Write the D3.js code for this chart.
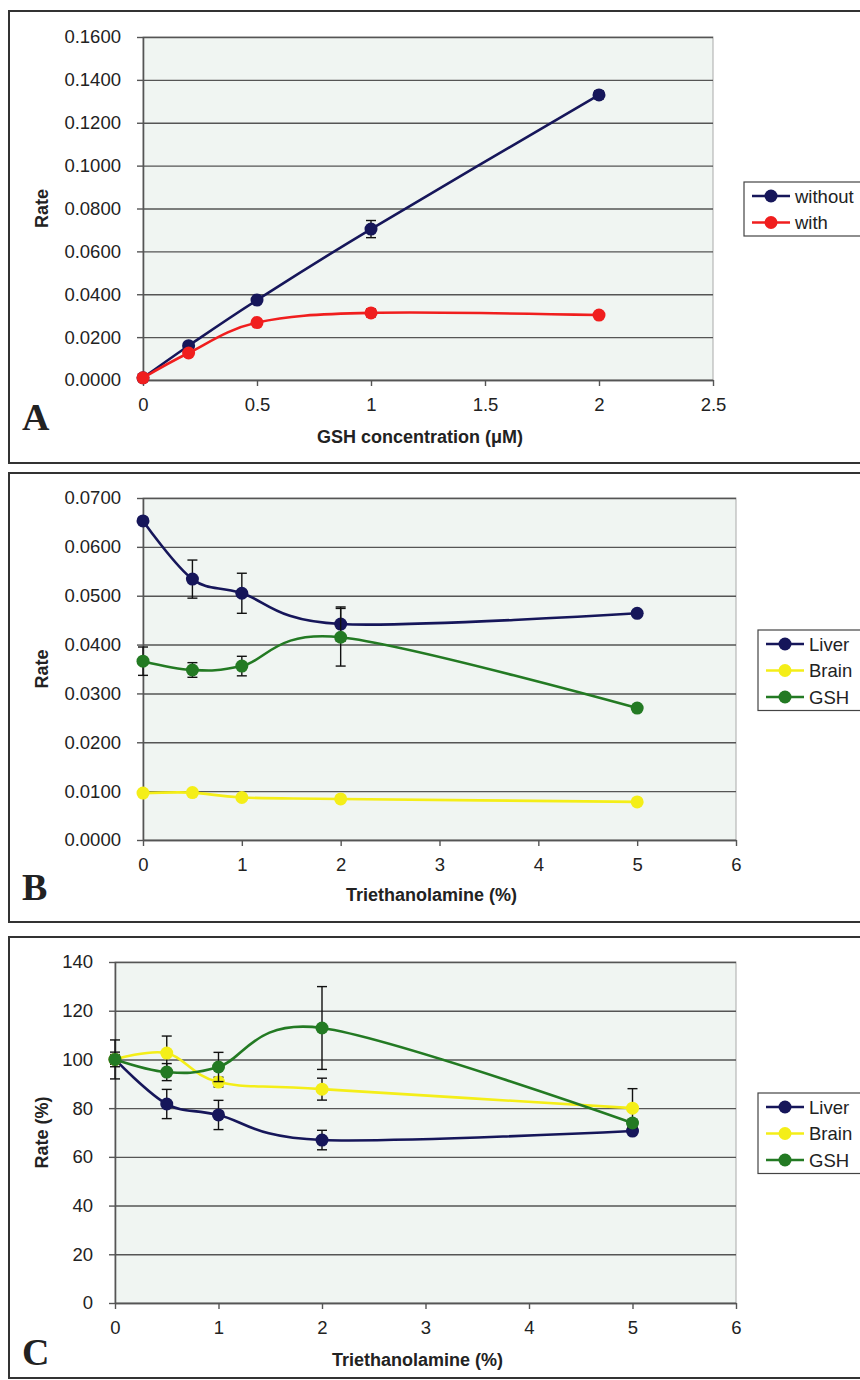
<!DOCTYPE html>
<html>
<head>
<meta charset="utf-8">
<script src="https://cdn.jsdelivr.net/npm/d3@7"></script>
<style>
  body { margin: 0; background: #fff; }
  svg { display: block; }
  text { font-family: "Liberation Sans", Arial, sans-serif; fill: #222; }
</style>
</head>
<body>
<svg id="fig" width="860" height="1380"></svg>
<script>
// ---- panel A data ----
var aX = [0, 0.2, 0.5, 1, 2];
var aWithout = [0.0010, 0.0160, 0.0373, 0.0704, 0.1330];
var aWithoutErr = [0.0003, 0.0010, 0.0008, 0.0040, 0.0018];
var aWith = [0.0010, 0.0126, 0.0268, 0.0313, 0.0303];
var aWithErr = [0.0003, 0.0008, 0.0010, 0.0018, 0.0008];
var aXTicks = [0, 0.5, 1, 1.5, 2, 2.5];
var aYTicks = [0, 0.02, 0.04, 0.06, 0.08, 0.10, 0.12, 0.14, 0.16];

// ---- panel B data ----
var bX = [0, 0.5, 1, 2, 5];
var bLiver = [0.0653, 0.0534, 0.0505, 0.0442, 0.0464];
var bLiverErr = [0.0005, 0.0039, 0.0041, 0.0035, 0.0005];
var bBrain = [0.0096, 0.0097, 0.0087, 0.0084, 0.0078];
var bBrainErr = [0.0003, 0.0003, 0.0003, 0.0003, 0.0003];
var bGSH = [0.0366, 0.0348, 0.0356, 0.0415, 0.0270];
var bGSHErr = [0.0029, 0.0015, 0.0020, 0.0059, 0.0005];
var bXTicks = [0, 1, 2, 3, 4, 5, 6];
var bYTicks = [0, 0.01, 0.02, 0.03, 0.04, 0.05, 0.06, 0.07];

// ---- panel C data ----
var cX = [0, 0.5, 1, 2, 5];
var cLiver = [100, 81.7, 77.2, 66.9, 70.6];
var cLiverErr = [3, 6, 6, 4, 1];
var cBrain = [100, 102.6, 90.7, 87.8, 80.0];
var cBrainErr = [2, 7, 2, 4.5, 8];
var cGSH = [100, 94.8, 96.9, 112.9, 73.9];
var cGSHErr = [8, 3.5, 6, 17, 1.5];
var cXTicks = [0, 1, 2, 3, 4, 5, 6];
var cYTicks = [0, 20, 40, 60, 80, 100, 120, 140];

var navy = "#16165a", red = "#f01e1e", yellow = "#f4ee18", green = "#237a23";

var svg = d3.select("#fig");

function panel(p) {
  var g = svg.append("g");

  // outer frame
  g.append("rect")
    .attr("x", 9).attr("y", p.top)
    .attr("width", 870).attr("height", p.bottom - p.top)
    .attr("fill", "none").attr("stroke", "#333").attr("stroke-width", 2);

  var x = d3.scaleLinear().domain(p.xDomain).range([p.left, p.right]);
  var y = d3.scaleLinear().domain(p.yDomain).range([p.plotBottom, p.plotTop]);

  g.append("rect")
    .attr("x", p.left).attr("y", p.plotTop)
    .attr("width", p.right - p.left).attr("height", p.plotBottom - p.plotTop)
    .attr("fill", "#f0f5f2").attr("stroke", "#aaaaaa").attr("stroke-width", 1);

  // grid lines
  g.append("g")
    .attr("transform", "translate(" + p.left + ",0)")
    .call(d3.axisLeft(y).tickValues(p.yTicks).tickSize(-(p.right - p.left)).tickFormat(""))
    .call(function(s){ s.select(".domain").remove(); })
    .selectAll("line").attr("stroke", "#555").attr("stroke-width", 1.4);

  // y axis
  var ya = g.append("g")
    .attr("transform", "translate(" + p.left + ",0)")
    .call(d3.axisLeft(y).tickValues(p.yTicks).tickSize(6).tickSizeOuter(0).tickPadding(16).tickFormat(p.yFormat));
  ya.select(".domain").attr("stroke", "#555").attr("stroke-width", 1.6);
  ya.selectAll("line").attr("stroke", "#555").attr("stroke-width", 1.4);
  ya.selectAll("text").style("font-size", "18.5px").attr("fill", "#222");

  // x axis
  var xa = g.append("g")
    .attr("transform", "translate(0," + p.plotBottom + ")")
    .call(d3.axisBottom(x).tickValues(p.xTicks).tickSize(6).tickSizeOuter(0).tickPadding(12).tickFormat(d3.format("")));
  xa.select(".domain").attr("stroke", "#555").attr("stroke-width", 1.6);
  xa.selectAll("line").attr("stroke", "#555").attr("stroke-width", 1.4);
  xa.selectAll("text").style("font-size", "18.5px").attr("fill", "#222");

  // axis titles
  g.append("text")
    .attr("x", (p.left + p.right) / 2 - 8).attr("y", p.xTitleY)
    .attr("text-anchor", "middle").style("font-size", "18px").style("font-weight", "bold")
    .text(p.xTitle);
  g.append("text")
    .attr("transform", "translate(48," + ((p.plotTop + p.plotBottom) / 2) + ") rotate(-90)")
    .attr("text-anchor", "middle").style("font-size", "18px").style("font-weight", "bold")
    .text(p.yTitle);

  // panel letter
  g.append("text")
    .attr("x", 22).attr("y", p.letterY)
    .style("font-family", "'Liberation Serif', 'Times New Roman', serif")
    .style("font-size", "38px").style("font-weight", "bold").attr("fill", "#111")
    .text(p.letter);

  var line = d3.line()
    .x(function(d){ return x(d[0]); })
    .y(function(d){ return y(d[1]); })
    .curve(d3.curveCatmullRom.alpha(0));

  p.series.forEach(function(s) {
    var pts = p.xs.map(function(v, i){ return [v, s.values[i], s.err[i]]; });
    g.append("path").datum(pts)
      .attr("d", line).attr("fill", "none")
      .attr("stroke", s.color).attr("stroke-width", 2.6);

    var eb = g.append("g").selectAll("g").data(pts).enter().append("g");
    eb.append("line")
      .attr("x1", function(d){ return x(d[0]); }).attr("x2", function(d){ return x(d[0]); })
      .attr("y1", function(d){ return y(d[1] - d[2]); }).attr("y2", function(d){ return y(d[1] + d[2]); })
      .attr("stroke", "#111").attr("stroke-width", 1.4);
    [-1, 1].forEach(function(sg) {
      eb.append("line")
        .attr("x1", function(d){ return x(d[0]) - 5; }).attr("x2", function(d){ return x(d[0]) + 5; })
        .attr("y1", function(d){ return y(d[1] + sg * d[2]); }).attr("y2", function(d){ return y(d[1] + sg * d[2]); })
        .attr("stroke", "#111").attr("stroke-width", 1.4);
    });

    g.append("g").selectAll("circle").data(pts).enter().append("circle")
      .attr("cx", function(d){ return x(d[0]); })
      .attr("cy", function(d){ return y(d[1]); })
      .attr("r", 6.5).attr("fill", s.color);
  });

  // legend
  var lg = g.append("g");
  lg.append("rect")
    .attr("x", p.legX).attr("y", p.legY)
    .attr("width", 140).attr("height", p.series.length * 26.5 + 1)
    .attr("fill", "#fff").attr("stroke", "#444").attr("stroke-width", 1.2);
  p.series.forEach(function(s, i) {
    var cy = p.legY + 14 + i * 26.5;
    lg.append("line")
      .attr("x1", p.legX + 8).attr("x2", p.legX + 46)
      .attr("y1", cy).attr("y2", cy)
      .attr("stroke", s.color).attr("stroke-width", 2.6);
    lg.append("circle").attr("cx", p.legX + 27).attr("cy", cy).attr("r", 6.5).attr("fill", s.color);
    lg.append("text")
      .attr("x", p.legX + 51).attr("y", cy + 6.5)
      .style("font-size", "18.5px").attr("fill", "#222")
      .text(s.name);
  });
}

panel({
  letter: "A", top: 11, bottom: 463, letterY: 430,
  left: 143, right: 713, plotTop: 37, plotBottom: 380,
  xDomain: [0, 2.5], yDomain: [0, 0.16],
  xTicks: aXTicks, yTicks: aYTicks, yFormat: d3.format(".4f"),
  xTitle: "GSH concentration (\u03bcM)", xTitleY: 443, yTitle: "Rate",
  xs: aX,
  series: [
    { name: "without", values: aWithout, err: aWithoutErr, color: navy },
    { name: "with", values: aWith, err: aWithErr, color: red }
  ],
  legX: 744, legY: 182
});

panel({
  letter: "B", top: 473, bottom: 922, letterY: 900,
  left: 143, right: 736, plotTop: 498, plotBottom: 840,
  xDomain: [0, 6], yDomain: [0, 0.07],
  xTicks: bXTicks, yTicks: bYTicks, yFormat: d3.format(".4f"),
  xTitle: "Triethanolamine (%)", xTitleY: 901, yTitle: "Rate",
  xs: bX,
  series: [
    { name: "Liver", values: bLiver, err: bLiverErr, color: navy },
    { name: "Brain", values: bBrain, err: bBrainErr, color: yellow },
    { name: "GSH", values: bGSH, err: bGSHErr, color: green }
  ],
  legX: 758, legY: 630
});

panel({
  letter: "C", top: 937, bottom: 1378, letterY: 1365,
  left: 115, right: 736, plotTop: 962, plotBottom: 1303,
  xDomain: [0, 6], yDomain: [0, 140],
  xTicks: cXTicks, yTicks: cYTicks, yFormat: d3.format("d"),
  xTitle: "Triethanolamine (%)", xTitleY: 1366, yTitle: "Rate (%)",
  xs: cX,
  series: [
    { name: "Liver", values: cLiver, err: cLiverErr, color: navy },
    { name: "Brain", values: cBrain, err: cBrainErr, color: yellow },
    { name: "GSH", values: cGSH, err: cGSHErr, color: green }
  ],
  legX: 758, legY: 1093
});
</script>
</body>
</html>
